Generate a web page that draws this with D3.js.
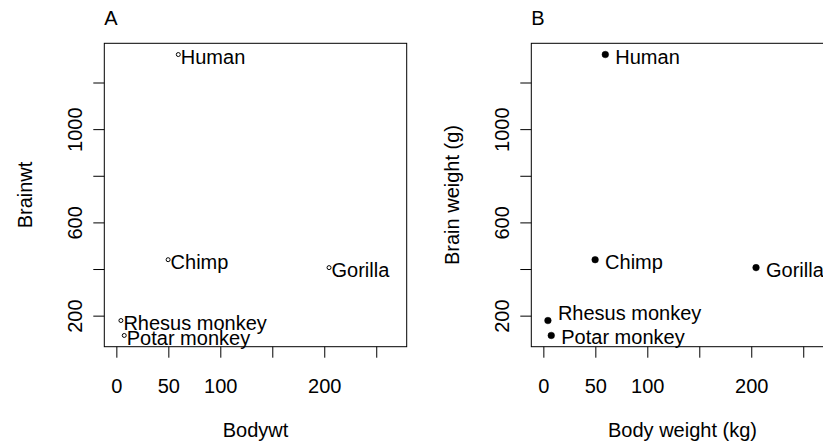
<!DOCTYPE html>
<html>
<head>
<meta charset="utf-8">
<script src="https://cdn.jsdelivr.net/npm/d3@7"></script>
<style>
  html, body { margin: 0; padding: 0; background: #fff; }
  svg { display: block; }
  text { font-family: "Liberation Sans", Arial, sans-serif; fill: #000; }
</style>
</head>
<body>
<script>
// ---- data ----
const species = ["Potar monkey", "Gorilla", "Human", "Rhesus monkey", "Chimp"];
const bodywt  = [10.0, 207.0, 62.0, 6.8, 52.2];
const brainwt = [115, 406, 1320, 179, 440];
const xTicks = [0, 50, 100, 150, 200, 250];
const xTickLabels = ["0", "50", "100", "", "200", ""];
const yTicks = [200, 400, 600, 800, 1000, 1200];
const yTickLabels = ["200", "", "600", "", "1000", ""];

const panels = [
  { title: "A", xlab: "Bodywt", ylab: "Brainwt", filled: false },
  { title: "B", xlab: "Body weight (kg)", ylab: "Brain weight (g)", filled: true }
];

// ---- layout ----
const W = 823, H = 443;
const FS = 20;
const plotW = 302.4, plotH = 303.4, plotTop = 43.3;
const panelLeft = [104.3, 531.3];
const xDomain = [-11.6, 279.3];
const yDomain = [66.8, 1368.2];
const tickLen = 11;
const ptShift = -2.5;

const svg = d3.select("body").append("svg").attr("width", W).attr("height", H);

const data = species.map((s, i) => ({ name: s, x: bodywt[i], y: brainwt[i] }));

panels.forEach((p, pi) => {
  const left = panelLeft[pi];
  const g = svg.append("g").attr("transform", `translate(${left},${plotTop})`);
  const x = d3.scaleLinear().domain(xDomain).range([0, plotW]);
  const y = d3.scaleLinear().domain(yDomain).range([plotH, 0]);

  // x axis
  const xa = g.append("g").attr("transform", `translate(0,${plotH})`)
    .call(d3.axisBottom(x).tickValues(xTicks)
      .tickFormat((d, i) => xTickLabels[i]).tickSize(tickLen).tickSizeOuter(0));
  xa.select(".domain").remove();
  xa.selectAll("line").attr("stroke", "#000").attr("stroke-width", 1);
  xa.selectAll("text").attr("y", 46.3).attr("dy", 0).attr("fill", "#000")
    .style("font-size", FS + "px").style("font-family", "Liberation Sans, Arial, sans-serif");

  // y axis
  const ya = g.append("g")
    .call(d3.axisLeft(y).tickValues(yTicks)
      .tickFormat((d, i) => yTickLabels[i]).tickSize(tickLen).tickSizeOuter(0));
  ya.select(".domain").remove();
  ya.selectAll("line").attr("stroke", "#000").attr("stroke-width", 1);
  ya.selectAll("text").attr("x", null).attr("dy", null).attr("fill", "#000")
    .attr("text-anchor", "middle")
    .attr("transform", "translate(-22.5,0) rotate(-90)")
    .style("font-size", FS + "px").style("font-family", "Liberation Sans, Arial, sans-serif");

  // box
  g.append("rect").attr("x", 0).attr("y", 0).attr("width", plotW).attr("height", plotH)
    .attr("fill", "none").attr("stroke", "#000").attr("stroke-width", 1);

  // points
  g.selectAll("circle.pt").data(data).join("circle").attr("class", "pt")
    .attr("cx", d => x(d.x) + ptShift).attr("cy", d => y(d.y))
    .attr("r", p.filled ? 3.3 : 2)
    .attr("fill", p.filled ? "#000" : "none")
    .attr("stroke", "#000").attr("stroke-width", p.filled ? 0.5 : 1);

  // labels
  const nudge = p.filled ? (d => d.name === "Rhesus monkey" ? -1 : 9) : (d => 9.5);
  const dx = p.filled ? 10 : 2.5;
  g.selectAll("text.lab").data(data).join("text").attr("class", "lab")
    .attr("x", d => x(d.x) + ptShift + dx).attr("y", d => y(d.y) + nudge(d))
    .style("font-size", FS + "px")
    .text(d => d.name);

  // axis titles
  g.append("text").attr("x", plotW / 2).attr("y", 437 - plotTop)
    .attr("text-anchor", "middle").style("font-size", FS + "px").text(p.xlab);
  g.append("text").attr("text-anchor", "middle")
    .attr("transform", `translate(${32 - 104.3},${plotH / 2}) rotate(-90)`)
    .style("font-size", FS + "px").text(p.ylab);

  // panel title
  g.append("text").attr("x", 0).attr("y", 25 - plotTop)
    .style("font-size", FS + "px").text(p.title);
});
</script>
</body>
</html>
